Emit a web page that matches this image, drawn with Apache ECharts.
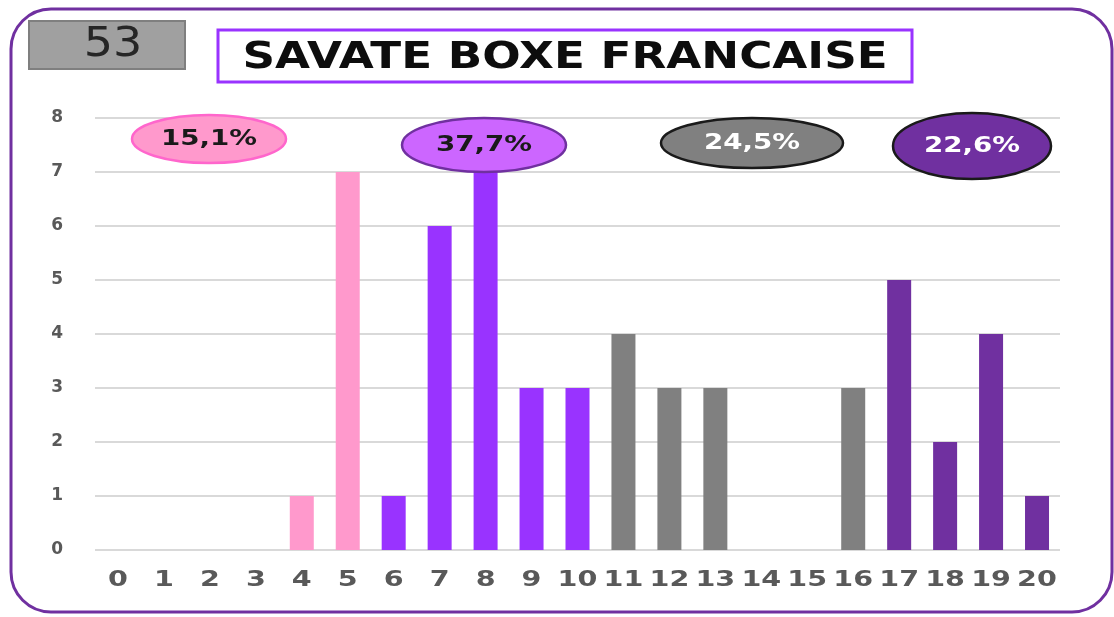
<!DOCTYPE html>
<html>
<head>
<meta charset="utf-8">
<script src="https://cdn.jsdelivr.net/npm/echarts@6/dist/echarts.min.js"></script>
<style>
  html, body { margin: 0; padding: 0; background: #ffffff; }
  #chart { width: 1114px; height: 617px; }
</style>
</head>
<body>
<div id="chart"></div>
<script>
// Scores 0..20 and how many competitors got each score
const scores = ['0','1','2','3','4','5','6','7','8','9','10','11','12','13','14','15','16','17','18','19','20'];
const counts = [0, 0, 0, 0, 1, 7, 1, 6, 7, 3, 3, 4, 3, 3, 0, 0, 3, 5, 2, 4, 1];
// Score band of each score (0: 0-5, 1: 6-10, 2: 11-16, 3: 17-20)
const bandOf = [0,0,0,0,0,0,1,1,1,1,1,2,2,2,2,2,2,3,3,3,3];
const bandColors = ['#FF99CC', '#9933FF', '#808080', '#7030A0'];
const yTicks = [0, 1, 2, 3, 4, 5, 6, 7, 8];
const totalLabel = '53';
const titleText = 'SAVATE BOXE FRANCAISE';

// Share of each band, French decimal comma
const total = counts.reduce((a, b) => a + b, 0);
const bandShare = bandColors.map((_, b) =>
  counts.reduce((s, v, i) => s + (bandOf[i] === b ? v : 0), 0) / total);
const shareText = bandShare.map(p => (p * 100).toFixed(1).replace('.', ',') + '%');

// Bubble styles for the band shares
const bubbles = [
  { cx: 209, cy: 139, rx: 77, ry: 24, fill: '#FF99CC', stroke: '#FF66CC', text: '#1a1a1a' },
  { cx: 484, cy: 145, rx: 82, ry: 27, fill: '#CC66FF', stroke: '#7030A0', text: '#1a1a1a' },
  { cx: 752, cy: 143, rx: 91, ry: 25, fill: '#808080', stroke: '#1a1a1a', text: '#ffffff' },
  { cx: 972, cy: 146, rx: 79, ry: 33, fill: '#7030A0', stroke: '#1a1a1a', text: '#ffffff' }
];

const chart = echarts.init(document.getElementById('chart'), null, { renderer: 'canvas' });

const graphics = [
  // outer frame
  { type: 'rect', z: 0, shape: { x: 11, y: 9, width: 1101, height: 603, r: 40 },
    style: { fill: 'none', stroke: '#7030A0', lineWidth: 3 } },
  // count box
  { type: 'rect', z: 10, shape: { x: 29, y: 21, width: 156, height: 48 },
    style: { fill: '#A0A0A0', stroke: '#7F7F7F', lineWidth: 2 } },
  { type: 'text', z: 11, x: 113, y: 46, scaleX: 1.15,
    style: { text: totalLabel, x: 0, y: 0, textAlign: 'center', textVerticalAlign: 'middle',
             font: 'normal 40px "DejaVu Sans"', fill: '#262626' } },
  // title box
  { type: 'rect', z: 10, shape: { x: 218, y: 30, width: 694, height: 52 },
    style: { fill: '#ffffff', stroke: '#9933FF', lineWidth: 3 } },
  { type: 'text', z: 11, x: 565, y: 58, scaleX: 1.19,
    style: { text: titleText, x: 0, y: 0, textAlign: 'center', textVerticalAlign: 'middle',
             font: 'bold 38px "DejaVu Sans"', fill: '#0d0d0d' } }
];

bubbles.forEach((b, i) => {
  graphics.push({ type: 'ellipse', z: 100, shape: { cx: b.cx, cy: b.cy, rx: b.rx, ry: b.ry },
    style: { fill: b.fill, stroke: b.stroke, lineWidth: 2.5 } });
  graphics.push({ type: 'text', z: 101, x: b.cx, y: b.cy, scaleX: 1.26,
    style: { text: shareText[i], x: 0, y: 0, textAlign: 'center', textVerticalAlign: 'middle',
             font: 'bold 22px "DejaVu Sans"', fill: b.text } });
});

chart.setOption({
  animation: false,
  backgroundColor: '#ffffff',
  grid: { left: 95, right: 54, top: 118, bottom: 67, containLabel: false },
  xAxis: {
    type: 'category',
    data: scores,
    boundaryGap: true,
    axisLine: { show: false },
    axisTick: { show: false },
    axisLabel: { show: false },
    splitLine: { show: false }
  },
  yAxis: {
    type: 'value',
    min: yTicks[0],
    max: yTicks[yTicks.length - 1],
    interval: 1,
    axisLine: { show: false },
    axisTick: { show: false },
    axisLabel: {
      margin: 32,
      color: '#595959',
      fontFamily: 'DejaVu Sans',
      fontWeight: 'bold',
      fontSize: 17
    },
    splitLine: { lineStyle: { color: '#D9D9D9', width: 2 } }
  },
  graphic: graphics,
  series: [
    {
      type: 'bar',
      barWidth: 24,
      data: counts.map((v, i) => ({ value: v, itemStyle: { color: bandColors[bandOf[i]] } })),
      z: 2
    },
    {
      // score labels under the axis, widened like the rest of the lettering
      type: 'custom',
      clip: false,
      silent: true,
      data: scores.map((s, i) => [i, 0]),
      renderItem: function (params, api) {
        const p = api.coord([api.value(0), 0]);
        return {
          type: 'text',
          x: p[0],
          y: p[1] + 30,
          scaleX: 1.3,
          style: {
            text: scores[params.dataIndex],
            x: 0, y: 0,
            textAlign: 'center',
            textVerticalAlign: 'middle',
            font: 'bold 22px "DejaVu Sans"',
            fill: '#595959'
          }
        };
      }
    }
  ]
});
</script>
</body>
</html>
